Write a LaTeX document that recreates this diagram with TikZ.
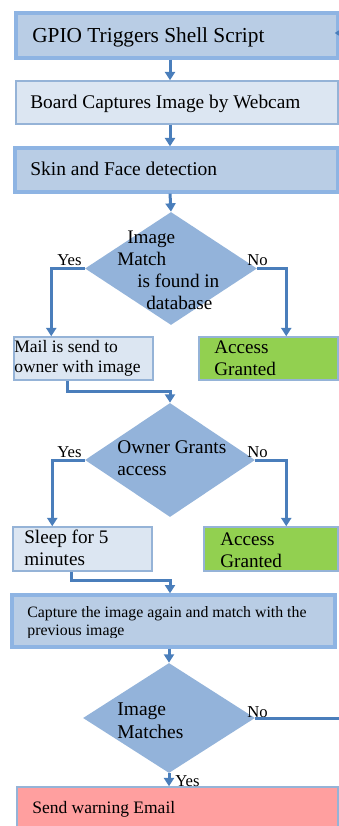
\documentclass[tikz,border=0pt]{standalone}
\usepackage{fontspec}
\setmainfont{Liberation Serif}
\usetikzlibrary{arrows.meta,shapes.geometric,fit,calc}

\definecolor{darkfill}{HTML}{B9CDE5}
\definecolor{darkline}{HTML}{8EB4E3}
\definecolor{lightfill}{HTML}{DCE6F2}
\definecolor{lightline}{HTML}{95B3D7}
\definecolor{diafill}{HTML}{93B3DA}
\definecolor{connblue}{HTML}{4A7EBB}
\definecolor{okgreen}{HTML}{92D050}
\definecolor{warnpink}{HTML}{FF9F9F}

\tikzset{
  stepdark/.style={draw=darkline, line width=2pt, fill=darkfill, inner sep=0pt},
  steplight/.style={draw=lightline, line width=0.9pt, fill=lightfill, inner sep=0pt},
  stepgreen/.style={draw=lightline, line width=0.9pt, fill=okgreen, inner sep=0pt},
  steppink/.style={draw=lightline, line width=0.9pt, fill=warnpink, inner sep=0pt},
  decision/.style={shape=diamond, fill=diafill, draw=none, inner sep=0pt},
  conn/.style={draw=connblue, line width=1.8pt, -{Triangle[width=6pt,length=5pt]}},
  txt/.style={anchor=base west, inner sep=0pt, font=\fontsize{11.5}{13}\selectfont},
  tag/.style={anchor=base west, inner sep=0pt, font=\fontsize{10}{12}\selectfont}
}

\begin{document}
\begin{tikzpicture}[x=0.6pt,y=-0.6pt]
\useasboundingbox (0,0) rectangle (339,826);
\clip (0,0) rectangle (339,826);

% boxes
\node[stepdark, fit={(16,13) (338,58)}] (b1) {};
\node[steplight, fit={(16,81) (338,124)}] (b2) {};
\node[stepdark, fit={(15,148) (338,192)}] (b3) {};
\node[decision, minimum width=103.2pt, minimum height=67.8pt] (d1) at (171,268.5) {};
\node[steplight, fit={(14,337) (153,380)}] (b4) {};
\node[stepgreen, fit={(199,337) (338,380)}] (b5) {};
\node[decision, minimum width=102pt, minimum height=68.4pt] (d2) at (170,460) {};
\node[steplight, fit={(13,527) (152,571)}] (b6) {};
\node[stepgreen, fit={(204,527) (338,571)}] (b7) {};
\node[stepdark, fit={(12,595) (335,647)}] (b8) {};
\node[decision, minimum width=103.2pt, minimum height=66pt] (d3) at (169,718) {};
\node[steppink, fit={(17,787) (338,832)}] (b9) {};

% texts
\node[txt, font=\fontsize{12.8}{15}\selectfont] (t1) at (32,43) {GPIO Triggers Shell Script};
\node[txt, font=\fontsize{11.6}{14}\selectfont] (t2) at (30,109) {Board Captures Image by Webcam};
\node[txt, font=\fontsize{11.7}{14}\selectfont] (t3) at (30,176) {Skin and Face detection};

\node[txt] (t4a) at (127,243) {Image};
\node[txt] (t4b) at (117,265) {Match};
\node[txt] (t4c) at (137,287) {is found in};
\node[txt] (t4d) at (146,309) {database};

\node[txt, font=\fontsize{10.5}{12}\selectfont] (t5a) at (14,352) {Mail is send to};
\node[txt, font=\fontsize{10.5}{12}\selectfont] (t5b) at (14,372) {owner with image};
\node[txt] (t6a) at (214,353) {Access};
\node[txt] (t6b) at (214,375) {Granted};

\node[txt, font=\fontsize{11.6}{14}\selectfont] (t7a) at (117,453) {Owner Grants};
\node[txt, font=\fontsize{11.6}{14}\selectfont] (t7b) at (117,475) {access};

\node[txt] (t8a) at (24,543) {Sleep for 5};
\node[txt] (t8b) at (24,565) {minutes};
\node[txt] (t9a) at (220,545) {Access};
\node[txt] (t9b) at (220,567) {Granted};

\begin{scope}
  \clip (12,595) rectangle (335,637.5);
  \node[txt, font=\fontsize{9.5}{11}\selectfont] (t10a) at (27,617) {Capture the image again and match with the};
  \node[txt, font=\fontsize{9.5}{11}\selectfont] (t10b) at (27,635) {previous image};
\end{scope}

\node[txt, font=\fontsize{11.7}{14}\selectfont] (t11a) at (117,715) {Image};
\node[txt, font=\fontsize{11.7}{14}\selectfont] (t11b) at (117,738) {Matches};

\node[txt, font=\fontsize{10.5}{12}\selectfont] (t12) at (32,813) {Send warning Email};

% branch tags
\node[tag] (y1) at (57,266) {Yes};
\node[tag] (n1) at (247,266) {No};
\node[tag] (y2) at (57,457) {Yes};
\node[tag] (n2) at (247,457) {No};
\node[tag] (n3) at (247,717) {No};
\node[tag] (y3) at (175,786) {Yes};

% connectors
\draw[conn] (b1.south -| d2.north) -- (b2.north -| d2.north);
\draw[conn] (b2.south -| d2.north) -- (b3.north -| d2.north);
\draw[conn] (b3.south -| d2.north) -- (d1.north);
\draw[conn] (d1.west) -| ([xshift=22.8pt]b4.north west);
\draw[conn] (d1.east) -| ([xshift=52.8pt]b5.north west);
\draw[conn] ([xshift=32.4pt]b4.south west) |- ([yshift=6.6pt]d2.north) -- (d2.north);
\draw[conn] (d2.west) -| ([xshift=24pt]b6.north west);
\draw[conn] (d2.east) -| ([xshift=49.8pt]b7.north west);
\draw[conn] ([xshift=35.4pt]b6.south west) |- ([yshift=7.8pt]b8.north -| d2.north) -- (b8.north -| d2.north);
\draw[conn] (b8.south -| d3.north) -- (d3.north);
\draw[conn] (d3.south) -- (b9.north -| d3.south);
\draw[conn] (d3.east) -- ++(100,0) |- ([xshift=-3pt,yshift=1.5pt]b1.east);
\end{tikzpicture}
\end{document}
